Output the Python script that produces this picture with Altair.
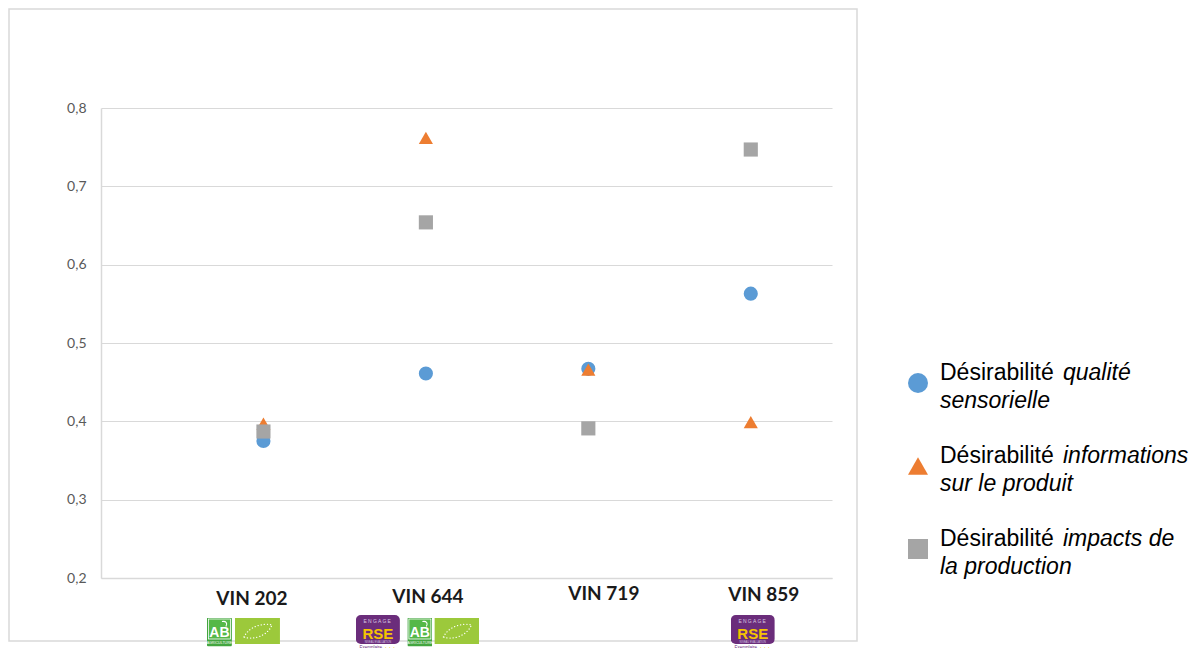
import base64
import altair as alt
import pandas as pd

# ---------------- data ----------------
wines = ["VIN 202", "VIN 644", "VIN 719", "VIN 859"]
series = [
    "Désirabilité qualité sensorielle",
    "Désirabilité informations sur le produit",
    "Désirabilité impacts de la production",
]
qualite = [0.375, 0.461, 0.467, 0.563]
informations = [0.397, 0.762, 0.466, 0.399]
impacts = [0.387, 0.654, 0.391, 0.747]
y_ticks = [0.2, 0.3, 0.4, 0.5, 0.6, 0.7, 0.8]

legend_lead = "Désirabilité"
legend_line1 = ["qualité", "informations", "impacts de"]
legend_line2 = ["sensorielle", "sur le produit", "la production"]

logo_wines = ["VIN 202", "VIN 202", "VIN 644", "VIN 644", "VIN 644", "VIN 859"]
logo_kinds = ["AB", "EU", "RSE", "AB", "EU", "RSE"]

# ---------------- styles / layout ----------------
COLORS = ["#5B9BD5", "#ED7D31", "#A5A5A5"]
SHAPES = ["circle", "triangle-up", "square"]
GRID = "#d9d9d9"
PX_PER_UNIT = 162.4
# hand-placed category labels: horizontal offset (px) and baseline (px from plot top)
LABEL_DX = [-11.5, 2, 15.5, 13]
LABEL_BASE = [497, 495, 492, 493]
# horizontal offset (px) of each logo from its wine's point position
LOGO_DX = [-44, -6, -48, -6, 31, 2]

values = [qualite, informations, impacts]
rows = []
for k, (s, vals) in enumerate(zip(series, values)):
    for i, (w, v) in enumerate(zip(wines, vals)):
        rows.append({"wine": w, "pos": i + 1, "series": s, "value": v, "k": k})
df = pd.DataFrame(rows)

color_scale = alt.Scale(domain=series, range=COLORS)
shape_scale = alt.Scale(domain=series, range=SHAPES)

x_axis = alt.Axis(
    values=[1, 2, 3, 4],
    labels=False,
    title=None,
    grid=False,
    ticks=False,
    domainColor=GRID,
    domainWidth=1.5,
)
x_scale = alt.Scale(domain=[0, 4.5], nice=False, zero=False)


def x_enc():
    return alt.X("pos:Q", scale=x_scale, axis=x_axis)


points = alt.Chart(df).mark_point(filled=True, opacity=1, size=200).encode(
    x=x_enc(),
    y=alt.Y(
        "value:Q",
        scale=alt.Scale(domain=[0.2, 0.8], nice=False, zero=False),
        axis=alt.Axis(
            values=y_ticks,
            labelExpr="replace(format(datum.value, '.1f'), '.', ',')",
            title=None,
            gridColor=GRID,
            gridWidth=1.2,
            ticks=False,
            domainColor=GRID,
            domainWidth=1.5,
            labelFont="Lato",
            labelFontSize=14,
            labelColor="#595959",
            labelPadding=15,
        ),
    ),
    color=alt.Color("series:N", scale=color_scale, legend=None),
    shape=alt.Shape("series:N", scale=shape_scale, legend=None),
    order=alt.Order("k:Q"),
)

# category labels (text boxes placed under each wine)
label_layers = []
for i, w in enumerate(wines):
    ldf = pd.DataFrame({"wine": [w], "pos": [i + 1 + LABEL_DX[i] / PX_PER_UNIT]})
    label_layers.append(
        alt.Chart(ldf)
        .mark_text(font="Lato", fontWeight="bold", fontSize=19, color="#1a1a1a",
                   align="center", baseline="alphabetic")
        .encode(x=x_enc(), y=alt.value(LABEL_BASE[i]), text="wine:N")
    )

# outer chart frame
border = alt.Chart(pd.DataFrame({"a": [0]})).mark_rect(
    filled=False, stroke=GRID, strokeWidth=1.5
).encode(x=alt.value(-92), x2=alt.value(756), y=alt.value(-99), y2=alt.value(533))

# custom legend (regular + italic text)
legend_layers = []
for i, s in enumerate(series):
    ldf = pd.DataFrame(
        {"series": [s], "lead": [legend_lead], "l1": [legend_line1[i]], "l2": [legend_line2[i]]}
    )
    b1 = 272 + 83 * i
    base = alt.Chart(ldf)
    sym = base.mark_point(filled=True, opacity=1, size=400).encode(
        x=alt.value(817),
        y=alt.value(b1 + 3),
        color=alt.Color("series:N", scale=color_scale, legend=None),
        shape=alt.Shape("series:N", scale=shape_scale, legend=None),
    )
    txt_kw = dict(align="left", baseline="alphabetic", font="Liberation Sans", fontSize=23, color="#000000")
    lead = base.mark_text(**txt_kw).encode(x=alt.value(839), y=alt.value(b1), text="lead:N")
    it1 = base.mark_text(fontStyle="italic", dx=123, **txt_kw).encode(
        x=alt.value(839), y=alt.value(b1), text="l1:N"
    )
    it2 = base.mark_text(fontStyle="italic", **txt_kw).encode(
        x=alt.value(839), y=alt.value(b1 + 28), text="l2:N"
    )
    legend_layers += [sym, lead, it1, it2]

# ---------------- logos (inline SVG) ----------------
SVG_AB = """<svg xmlns='http://www.w3.org/2000/svg' width='25' height='29' viewBox='0 0 25 29'>
<rect x='0' y='0' width='25' height='29' rx='1.5' fill='#43a640'/>
<rect x='1.5' y='1.5' width='22' height='20' fill='#55b848' stroke='#ffffff' stroke-width='0.8'/>
<path d='M15 4 C19 3 21 6 19 9' stroke='#ffffff' stroke-width='1.2' fill='none'/>
<text x='12.5' y='19' font-family='Liberation Sans' font-weight='bold' font-size='14' fill='#ffffff' text-anchor='middle'>AB</text>
<text x='12.5' y='26.5' font-family='Liberation Sans' font-size='3.6' fill='#ffffff' text-anchor='middle'>AGRICULTURE</text>
</svg>"""

SVG_EU = """<svg xmlns='http://www.w3.org/2000/svg' width='45' height='26' viewBox='0 0 45 26'>
<rect x='0' y='0' width='45' height='26' fill='#9cc93b'/>
<path d='M9 19 C15 7 30 5 37 7 C32 19 17 22 9 19 Z' stroke='#ffffff' stroke-width='1.3'
 stroke-dasharray='0.1 3' stroke-linecap='round' fill='none'/>
</svg>"""

SVG_RSE = """<svg xmlns='http://www.w3.org/2000/svg' width='44' height='44' viewBox='0 0 44 44'>
<rect x='0' y='0' width='44' height='29' rx='5' fill='#6b2d7b'/>
<text x='22' y='7.5' font-family='Liberation Sans' font-size='5' fill='#d8c8e2' text-anchor='middle' letter-spacing='1.2'>ENGAGE</text>
<text x='22' y='23.5' font-family='Liberation Sans' font-weight='bold' font-size='15' fill='#f5c400' text-anchor='middle'>RSE</text>
<text x='22' y='27.5' font-family='Liberation Sans' font-size='2.6' fill='#d8c8e2' text-anchor='middle'>NIVEAU EVALUATION</text>
<rect x='1' y='30' width='42' height='5' fill='#ffffff'/>
<text x='15' y='34' font-family='Liberation Sans' font-size='4.5' fill='#6b2d7b' text-anchor='middle'>Exemplaire</text>
<text x='34' y='34.5' font-family='DejaVu Sans' font-size='4.5' fill='#f5c400' text-anchor='middle'>★★★</text>
<rect x='0' y='36' width='44' height='8' rx='2' fill='#6b2d7b'/>
</svg>"""


def data_uri(svg):
    return "data:image/svg+xml;base64," + base64.b64encode(svg.encode("utf-8")).decode("ascii")


LOGO_SVG = {"AB": SVG_AB, "EU": SVG_EU, "RSE": SVG_RSE}
LOGO_SIZE = {"AB": (25, 29, 524), "EU": (45, 26, 523), "RSE": (44, 44, 529)}

logo_df = pd.DataFrame({"wine": logo_wines, "kind": logo_kinds})
logo_df["pos"] = [wines.index(w) + 1 + dx / PX_PER_UNIT for w, dx in zip(logo_wines, LOGO_DX)]
logo_df["url"] = [data_uri(LOGO_SVG[k]) for k in logo_kinds]

logo_layers = []
for kind, (w, h, yv) in LOGO_SIZE.items():
    logo_layers.append(
        alt.Chart(logo_df[logo_df["kind"] == kind])
        .mark_image(width=w, height=h, align="center", baseline="middle")
        .encode(x=x_enc(), y=alt.value(yv), url="url:N")
    )

chart = (
    alt.layer(border, points, *label_layers, *legend_layers, *logo_layers)
    .properties(
        width=731,
        height=470,
        padding={"left": 93, "top": 100, "right": 358, "bottom": 70},
        autosize=alt.AutoSizeParams(type="none"),
        background="#ffffff",
    )
    .configure_view(stroke="transparent")
)

chart.save("out.html", embed_options={"renderer": "svg", "actions": False})
